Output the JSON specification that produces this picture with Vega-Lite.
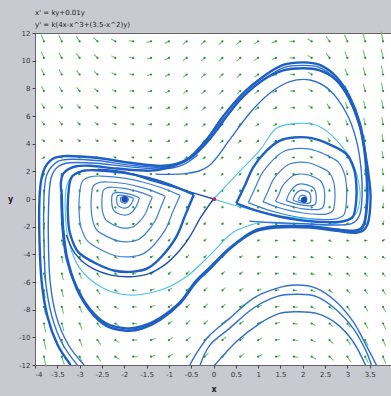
{
"$schema":"https://vega.github.io/schema/vega-lite/v6.json",
"width":357,"height":332,
"autosize":{"type":"none"},
"padding":{"left":35,"top":33,"right":0,"bottom":31},
"background":"#c9c9d1",
"title":{"text":["x' = ky+0.01y","y' = k(4x-x^3+(3.5-x^2)y)"],"anchor":"start","frame":"group","fontSize":7,"font":"DejaVu Sans","fontWeight":"normal","color":"#222","offset":1,"lineHeight":12.5},
"config":{"view":{"fill":"white","stroke":"#666","strokeWidth":1},
"axis":{"grid":false,"domain":false,"tickSize":3,"tickColor":"#444","labelFontSize":7,"labelColor":"#333","labelFont":"DejaVu Sans","labelPadding":2,"titleFont":"DejaVu Sans","titleFontSize":8,"titleFontWeight":"bold","titleColor":"#222"}},
"datasets":{
"field":[
{"x":-3.8,"y":11.4,"a":158,"m":1353},{"x":-3.4,"y":11.4,"a":153,"m":1116},{"x":-3,"y":11.4,"a":146,"m":896},{"x":-2.6,"y":11.4,"a":134,"m":709},{"x":-2.2,"y":11.4,"a":118,"m":573},{"x":-1.8,"y":11.4,"a":96,"m":512},{"x":-1.4,"y":11.4,"a":76,"m":523},{"x":-1,"y":11.4,"a":62,"m":577},{"x":-0.6,"y":11.4,"a":53,"m":638},{"x":-0.2,"y":11.4,"a":48,"m":683},{"x":0.2,"y":11.4,"a":47,"m":697},{"x":0.6,"y":11.4,"a":49,"m":677},{"x":1,"y":11.4,"a":55,"m":621},{"x":1.4,"y":11.4,"a":68,"m":548},{"x":1.8,"y":11.4,"a":92,"m":509},{"x":2.2,"y":11.4,"a":122,"m":598},{"x":2.6,"y":11.4,"a":144,"m":859},{"x":3,"y":11.4,"a":156,"m":1260},{"x":3.4,"y":11.4,"a":163,"m":1779},{"x":3.8,"y":11.4,"a":168,"m":2406},
{"x":-3.8,"y":10.2,"a":157,"m":1158},{"x":-3.4,"y":10.2,"a":152,"m":966},{"x":-3,"y":10.2,"a":145,"m":784},{"x":-2.6,"y":10.2,"a":134,"m":627},{"x":-2.2,"y":10.2,"a":117,"m":512},{"x":-1.8,"y":10.2,"a":97,"m":458},{"x":-1.4,"y":10.2,"a":77,"m":467},{"x":-1,"y":10.2,"a":62,"m":515},{"x":-0.6,"y":10.2,"a":53,"m":569},{"x":-0.2,"y":10.2,"a":48,"m":610},{"x":0.2,"y":10.2,"a":47,"m":625},{"x":0.6,"y":10.2,"a":48,"m":607},{"x":1,"y":10.2,"a":55,"m":558},{"x":1.4,"y":10.2,"a":68,"m":492},{"x":1.8,"y":10.2,"a":92,"m":455},{"x":2.2,"y":10.2,"a":122,"m":537},{"x":2.6,"y":10.2,"a":144,"m":777},{"x":3,"y":10.2,"a":157,"m":1148},{"x":3.4,"y":10.2,"a":164,"m":1628},{"x":3.8,"y":10.2,"a":168,"m":2210},
{"x":-3.8,"y":9,"a":155,"m":963},{"x":-3.4,"y":9,"a":151,"m":816},{"x":-3,"y":9,"a":143,"m":672},{"x":-2.6,"y":9,"a":133,"m":545},{"x":-2.2,"y":9,"a":117,"m":450},{"x":-1.8,"y":9,"a":97,"m":404},{"x":-1.4,"y":9,"a":77,"m":411},{"x":-1,"y":9,"a":63,"m":452},{"x":-0.6,"y":9,"a":53,"m":500},{"x":-0.2,"y":9,"a":48,"m":537},{"x":0.2,"y":9,"a":47,"m":552},{"x":0.6,"y":9,"a":48,"m":538},{"x":1,"y":9,"a":54,"m":495},{"x":1.4,"y":9,"a":67,"m":436},{"x":1.8,"y":9,"a":92,"m":402},{"x":2.2,"y":9,"a":122,"m":475},{"x":2.6,"y":9,"a":145,"m":695},{"x":3,"y":9,"a":157,"m":1035},{"x":3.4,"y":9,"a":164,"m":1477},{"x":3.8,"y":9,"a":169,"m":2013},
{"x":-3.8,"y":7.8,"a":153,"m":769},{"x":-3.4,"y":7.8,"a":149,"m":666},{"x":-3,"y":7.8,"a":142,"m":561},{"x":-2.6,"y":7.8,"a":131,"m":464},{"x":-2.2,"y":7.8,"a":116,"m":388},{"x":-1.8,"y":7.8,"a":97,"m":351},{"x":-1.4,"y":7.8,"a":78,"m":355},{"x":-1,"y":7.8,"a":63,"m":389},{"x":-0.6,"y":7.8,"a":54,"m":431},{"x":-0.2,"y":7.8,"a":48,"m":465},{"x":0.2,"y":7.8,"a":47,"m":480},{"x":0.6,"y":7.8,"a":48,"m":469},{"x":1,"y":7.8,"a":54,"m":433},{"x":1.4,"y":7.8,"a":66,"m":380},{"x":1.8,"y":7.8,"a":91,"m":348},{"x":2.2,"y":7.8,"a":123,"m":414},{"x":2.6,"y":7.8,"a":145,"m":613},{"x":3,"y":7.8,"a":158,"m":923},{"x":3.4,"y":7.8,"a":165,"m":1325},{"x":3.8,"y":7.8,"a":169,"m":1816},
{"x":-3.8,"y":6.6,"a":149,"m":576},{"x":-3.4,"y":6.6,"a":145,"m":518},{"x":-3,"y":6.6,"a":139,"m":450},{"x":-2.6,"y":6.6,"a":130,"m":382},{"x":-2.2,"y":6.6,"a":116,"m":327},{"x":-1.8,"y":6.6,"a":98,"m":297},{"x":-1.4,"y":6.6,"a":79,"m":300},{"x":-1,"y":6.6,"a":64,"m":326},{"x":-0.6,"y":6.6,"a":54,"m":362},{"x":-0.2,"y":6.6,"a":49,"m":392},{"x":0.2,"y":6.6,"a":46,"m":407},{"x":0.6,"y":6.6,"a":47,"m":400},{"x":1,"y":6.6,"a":53,"m":370},{"x":1.4,"y":6.6,"a":65,"m":324},{"x":1.8,"y":6.6,"a":91,"m":294},{"x":2.2,"y":6.6,"a":123,"m":352},{"x":2.6,"y":6.6,"a":146,"m":532},{"x":3,"y":6.6,"a":159,"m":810},{"x":3.4,"y":6.6,"a":166,"m":1174},{"x":3.8,"y":6.6,"a":170,"m":1620},
{"x":-3.8,"y":5.4,"a":142,"m":389},{"x":-3.4,"y":5.4,"a":140,"m":372},{"x":-3,"y":5.4,"a":135,"m":340},{"x":-2.6,"y":5.4,"a":127,"m":301},{"x":-2.2,"y":5.4,"a":115,"m":265},{"x":-1.8,"y":5.4,"a":99,"m":244},{"x":-1.4,"y":5.4,"a":81,"m":244},{"x":-1,"y":5.4,"a":66,"m":264},{"x":-0.6,"y":5.4,"a":55,"m":293},{"x":-0.2,"y":5.4,"a":49,"m":320},{"x":0.2,"y":5.4,"a":46,"m":334},{"x":0.6,"y":5.4,"a":47,"m":331},{"x":1,"y":5.4,"a":52,"m":307},{"x":1.4,"y":5.4,"a":64,"m":268},{"x":1.8,"y":5.4,"a":90,"m":241},{"x":2.2,"y":5.4,"a":124,"m":291},{"x":2.6,"y":5.4,"a":148,"m":450},{"x":3,"y":5.4,"a":160,"m":698},{"x":3.4,"y":5.4,"a":166,"m":1023},{"x":3.8,"y":5.4,"a":170,"m":1424},
{"x":-3.8,"y":4.2,"a":122,"m":220},{"x":-3.4,"y":4.2,"a":127,"m":235},{"x":-3,"y":4.2,"a":127,"m":235},{"x":-2.6,"y":4.2,"a":122,"m":222},{"x":-2.2,"y":4.2,"a":113,"m":204},{"x":-1.8,"y":4.2,"a":100,"m":190},{"x":-1.4,"y":4.2,"a":84,"m":188},{"x":-1,"y":4.2,"a":68,"m":202},{"x":-0.6,"y":4.2,"a":57,"m":224},{"x":-0.2,"y":4.2,"a":49,"m":247},{"x":0.2,"y":4.2,"a":46,"m":262},{"x":0.6,"y":4.2,"a":46,"m":262},{"x":1,"y":4.2,"a":50,"m":245},{"x":1.4,"y":4.2,"a":62,"m":212},{"x":1.8,"y":4.2,"a":88,"m":187},{"x":2.2,"y":4.2,"a":125,"m":229},{"x":2.6,"y":4.2,"a":150,"m":369},{"x":3,"y":4.2,"a":161,"m":587},{"x":3.4,"y":4.2,"a":168,"m":873},{"x":3.8,"y":4.2,"a":171,"m":1227},
{"x":-3.8,"y":3,"a":61,"m":153},{"x":-3.4,"y":3,"a":90,"m":134},{"x":-3,"y":3,"a":107,"m":140},{"x":-2.6,"y":3,"a":113,"m":145},{"x":-2.2,"y":3,"a":111,"m":143},{"x":-1.8,"y":3,"a":102,"m":137},{"x":-1.4,"y":3,"a":88,"m":134},{"x":-1,"y":3,"a":73,"m":140},{"x":-0.6,"y":3,"a":59,"m":156},{"x":-0.2,"y":3,"a":50,"m":174},{"x":0.2,"y":3,"a":45,"m":189},{"x":0.6,"y":3,"a":44,"m":193},{"x":1,"y":3,"a":47,"m":183},{"x":1.4,"y":3,"a":58,"m":157},{"x":1.8,"y":3,"a":86,"m":134},{"x":2.2,"y":3,"a":127,"m":168},{"x":2.6,"y":3,"a":152,"m":288},{"x":3,"y":3,"a":164,"m":476},{"x":3.4,"y":3,"a":169,"m":723},{"x":3.8,"y":3,"a":172,"m":1032},
{"x":-3.8,"y":1.8,"a":17,"m":276},{"x":-3.4,"y":1.8,"a":29,"m":163},{"x":-3,"y":1.8,"a":54,"m":99},{"x":-2.6,"y":1.8,"a":86,"m":81},{"x":-2.2,"y":1.8,"a":104,"m":83},{"x":-1.8,"y":1.8,"a":107,"m":84},{"x":-1.4,"y":1.8,"a":100,"m":82},{"x":-1,"y":1.8,"a":84,"m":81},{"x":-0.6,"y":1.8,"a":66,"m":88},{"x":-0.2,"y":1.8,"a":52,"m":102},{"x":0.2,"y":1.8,"a":43,"m":117},{"x":0.6,"y":1.8,"a":40,"m":125},{"x":1,"y":1.8,"a":41,"m":122},{"x":1.4,"y":1.8,"a":51,"m":104},{"x":1.8,"y":1.8,"a":81,"m":81},{"x":2.2,"y":1.8,"a":132,"m":108},{"x":2.6,"y":1.8,"a":157,"m":209},{"x":3,"y":1.8,"a":167,"m":366},{"x":3.4,"y":1.8,"a":172,"m":574},{"x":3.8,"y":1.8,"a":174,"m":837},
{"x":-3.8,"y":0.6,"a":3,"m":455},{"x":-3.4,"y":0.6,"a":5,"m":286},{"x":-3,"y":0.6,"a":10,"m":160},{"x":-2.6,"y":0.6,"a":21,"m":73},{"x":-2.2,"y":0.6,"a":69,"m":29},{"x":-1.8,"y":0.6,"a":128,"m":34},{"x":-1.4,"y":0.6,"a":139,"m":41},{"x":-1,"y":0.6,"a":133,"m":37},{"x":-0.6,"y":0.6,"a":107,"m":28},{"x":-0.2,"y":0.6,"a":63,"m":30},{"x":0.2,"y":0.6,"a":37,"m":45},{"x":0.6,"y":0.6,"a":27,"m":59},{"x":1,"y":0.6,"a":25,"m":64},{"x":1.4,"y":0.6,"a":29,"m":55},{"x":1.8,"y":0.6,"a":58,"m":32},{"x":2.2,"y":0.6,"a":147,"m":49},{"x":2.6,"y":0.6,"a":168,"m":133},{"x":3,"y":0.6,"a":174,"m":259},{"x":3.4,"y":0.6,"a":176,"m":427},{"x":3.8,"y":0.6,"a":178,"m":644},
{"x":-3.8,"y":-0.6,"a":358,"m":644},{"x":-3.4,"y":-0.6,"a":356,"m":427},{"x":-3,"y":-0.6,"a":354,"m":259},{"x":-2.6,"y":-0.6,"a":348,"m":133},{"x":-2.2,"y":-0.6,"a":327,"m":49},{"x":-1.8,"y":-0.6,"a":238,"m":32},{"x":-1.4,"y":-0.6,"a":209,"m":55},{"x":-1,"y":-0.6,"a":205,"m":64},{"x":-0.6,"y":-0.6,"a":207,"m":59},{"x":-0.2,"y":-0.6,"a":217,"m":45},{"x":0.2,"y":-0.6,"a":243,"m":30},{"x":0.6,"y":-0.6,"a":287,"m":28},{"x":1,"y":-0.6,"a":313,"m":37},{"x":1.4,"y":-0.6,"a":319,"m":41},{"x":1.8,"y":-0.6,"a":308,"m":34},{"x":2.2,"y":-0.6,"a":249,"m":29},{"x":2.6,"y":-0.6,"a":201,"m":73},{"x":3,"y":-0.6,"a":190,"m":160},{"x":3.4,"y":-0.6,"a":185,"m":286},{"x":3.8,"y":-0.6,"a":183,"m":455},
{"x":-3.8,"y":-1.8,"a":354,"m":837},{"x":-3.4,"y":-1.8,"a":352,"m":574},{"x":-3,"y":-1.8,"a":347,"m":366},{"x":-2.6,"y":-1.8,"a":337,"m":209},{"x":-2.2,"y":-1.8,"a":312,"m":108},{"x":-1.8,"y":-1.8,"a":261,"m":81},{"x":-1.4,"y":-1.8,"a":231,"m":104},{"x":-1,"y":-1.8,"a":221,"m":122},{"x":-0.6,"y":-1.8,"a":220,"m":125},{"x":-0.2,"y":-1.8,"a":223,"m":117},{"x":0.2,"y":-1.8,"a":232,"m":102},{"x":0.6,"y":-1.8,"a":246,"m":88},{"x":1,"y":-1.8,"a":264,"m":81},{"x":1.4,"y":-1.8,"a":280,"m":82},{"x":1.8,"y":-1.8,"a":287,"m":84},{"x":2.2,"y":-1.8,"a":284,"m":83},{"x":2.6,"y":-1.8,"a":266,"m":81},{"x":3,"y":-1.8,"a":234,"m":99},{"x":3.4,"y":-1.8,"a":209,"m":163},{"x":3.8,"y":-1.8,"a":197,"m":276},
{"x":-3.8,"y":-3,"a":352,"m":1032},{"x":-3.4,"y":-3,"a":349,"m":723},{"x":-3,"y":-3,"a":344,"m":476},{"x":-2.6,"y":-3,"a":332,"m":288},{"x":-2.2,"y":-3,"a":307,"m":168},{"x":-1.8,"y":-3,"a":266,"m":134},{"x":-1.4,"y":-3,"a":238,"m":157},{"x":-1,"y":-3,"a":227,"m":183},{"x":-0.6,"y":-3,"a":224,"m":193},{"x":-0.2,"y":-3,"a":225,"m":189},{"x":0.2,"y":-3,"a":230,"m":174},{"x":0.6,"y":-3,"a":239,"m":156},{"x":1,"y":-3,"a":253,"m":140},{"x":1.4,"y":-3,"a":268,"m":134},{"x":1.8,"y":-3,"a":282,"m":137},{"x":2.2,"y":-3,"a":291,"m":143},{"x":2.6,"y":-3,"a":293,"m":145},{"x":3,"y":-3,"a":287,"m":140},{"x":3.4,"y":-3,"a":270,"m":134},{"x":3.8,"y":-3,"a":241,"m":153},
{"x":-3.8,"y":-4.2,"a":351,"m":1227},{"x":-3.4,"y":-4.2,"a":348,"m":873},{"x":-3,"y":-4.2,"a":341,"m":587},{"x":-2.6,"y":-4.2,"a":330,"m":369},{"x":-2.2,"y":-4.2,"a":305,"m":229},{"x":-1.8,"y":-4.2,"a":268,"m":187},{"x":-1.4,"y":-4.2,"a":242,"m":212},{"x":-1,"y":-4.2,"a":230,"m":245},{"x":-0.6,"y":-4.2,"a":226,"m":262},{"x":-0.2,"y":-4.2,"a":226,"m":262},{"x":0.2,"y":-4.2,"a":229,"m":247},{"x":0.6,"y":-4.2,"a":237,"m":224},{"x":1,"y":-4.2,"a":248,"m":202},{"x":1.4,"y":-4.2,"a":264,"m":188},{"x":1.8,"y":-4.2,"a":280,"m":190},{"x":2.2,"y":-4.2,"a":293,"m":204},{"x":2.6,"y":-4.2,"a":302,"m":222},{"x":3,"y":-4.2,"a":307,"m":235},{"x":3.4,"y":-4.2,"a":307,"m":235},{"x":3.8,"y":-4.2,"a":302,"m":220},
{"x":-3.8,"y":-5.4,"a":350,"m":1424},{"x":-3.4,"y":-5.4,"a":346,"m":1023},{"x":-3,"y":-5.4,"a":340,"m":698},{"x":-2.6,"y":-5.4,"a":328,"m":450},{"x":-2.2,"y":-5.4,"a":304,"m":291},{"x":-1.8,"y":-5.4,"a":270,"m":241},{"x":-1.4,"y":-5.4,"a":244,"m":268},{"x":-1,"y":-5.4,"a":232,"m":307},{"x":-0.6,"y":-5.4,"a":227,"m":331},{"x":-0.2,"y":-5.4,"a":226,"m":334},{"x":0.2,"y":-5.4,"a":229,"m":320},{"x":0.6,"y":-5.4,"a":235,"m":293},{"x":1,"y":-5.4,"a":246,"m":264},{"x":1.4,"y":-5.4,"a":261,"m":244},{"x":1.8,"y":-5.4,"a":279,"m":244},{"x":2.2,"y":-5.4,"a":295,"m":265},{"x":2.6,"y":-5.4,"a":307,"m":301},{"x":3,"y":-5.4,"a":315,"m":340},{"x":3.4,"y":-5.4,"a":320,"m":372},{"x":3.8,"y":-5.4,"a":322,"m":389},
{"x":-3.8,"y":-6.6,"a":350,"m":1620},{"x":-3.4,"y":-6.6,"a":346,"m":1174},{"x":-3,"y":-6.6,"a":339,"m":810},{"x":-2.6,"y":-6.6,"a":326,"m":532},{"x":-2.2,"y":-6.6,"a":303,"m":352},{"x":-1.8,"y":-6.6,"a":271,"m":294},{"x":-1.4,"y":-6.6,"a":245,"m":324},{"x":-1,"y":-6.6,"a":233,"m":370},{"x":-0.6,"y":-6.6,"a":227,"m":400},{"x":-0.2,"y":-6.6,"a":226,"m":407},{"x":0.2,"y":-6.6,"a":229,"m":392},{"x":0.6,"y":-6.6,"a":234,"m":362},{"x":1,"y":-6.6,"a":244,"m":326},{"x":1.4,"y":-6.6,"a":259,"m":300},{"x":1.8,"y":-6.6,"a":278,"m":297},{"x":2.2,"y":-6.6,"a":296,"m":327},{"x":2.6,"y":-6.6,"a":310,"m":382},{"x":3,"y":-6.6,"a":319,"m":450},{"x":3.4,"y":-6.6,"a":325,"m":518},{"x":3.8,"y":-6.6,"a":329,"m":576},
{"x":-3.8,"y":-7.8,"a":349,"m":1816},{"x":-3.4,"y":-7.8,"a":345,"m":1325},{"x":-3,"y":-7.8,"a":338,"m":923},{"x":-2.6,"y":-7.8,"a":325,"m":613},{"x":-2.2,"y":-7.8,"a":303,"m":414},{"x":-1.8,"y":-7.8,"a":271,"m":348},{"x":-1.4,"y":-7.8,"a":246,"m":380},{"x":-1,"y":-7.8,"a":234,"m":433},{"x":-0.6,"y":-7.8,"a":228,"m":469},{"x":-0.2,"y":-7.8,"a":227,"m":480},{"x":0.2,"y":-7.8,"a":228,"m":465},{"x":0.6,"y":-7.8,"a":234,"m":431},{"x":1,"y":-7.8,"a":243,"m":389},{"x":1.4,"y":-7.8,"a":258,"m":355},{"x":1.8,"y":-7.8,"a":277,"m":351},{"x":2.2,"y":-7.8,"a":296,"m":388},{"x":2.6,"y":-7.8,"a":311,"m":464},{"x":3,"y":-7.8,"a":322,"m":561},{"x":3.4,"y":-7.8,"a":329,"m":666},{"x":3.8,"y":-7.8,"a":333,"m":769},
{"x":-3.8,"y":-9,"a":349,"m":2013},{"x":-3.4,"y":-9,"a":344,"m":1477},{"x":-3,"y":-9,"a":337,"m":1035},{"x":-2.6,"y":-9,"a":325,"m":695},{"x":-2.2,"y":-9,"a":302,"m":475},{"x":-1.8,"y":-9,"a":272,"m":402},{"x":-1.4,"y":-9,"a":247,"m":436},{"x":-1,"y":-9,"a":234,"m":495},{"x":-0.6,"y":-9,"a":228,"m":538},{"x":-0.2,"y":-9,"a":227,"m":552},{"x":0.2,"y":-9,"a":228,"m":537},{"x":0.6,"y":-9,"a":233,"m":500},{"x":1,"y":-9,"a":243,"m":452},{"x":1.4,"y":-9,"a":257,"m":411},{"x":1.8,"y":-9,"a":277,"m":404},{"x":2.2,"y":-9,"a":297,"m":450},{"x":2.6,"y":-9,"a":313,"m":545},{"x":3,"y":-9,"a":323,"m":672},{"x":3.4,"y":-9,"a":331,"m":816},{"x":3.8,"y":-9,"a":335,"m":963},
{"x":-3.8,"y":-10.2,"a":348,"m":2210},{"x":-3.4,"y":-10.2,"a":344,"m":1628},{"x":-3,"y":-10.2,"a":337,"m":1148},{"x":-2.6,"y":-10.2,"a":324,"m":777},{"x":-2.2,"y":-10.2,"a":302,"m":537},{"x":-1.8,"y":-10.2,"a":272,"m":455},{"x":-1.4,"y":-10.2,"a":248,"m":492},{"x":-1,"y":-10.2,"a":235,"m":558},{"x":-0.6,"y":-10.2,"a":228,"m":607},{"x":-0.2,"y":-10.2,"a":227,"m":625},{"x":0.2,"y":-10.2,"a":228,"m":610},{"x":0.6,"y":-10.2,"a":233,"m":569},{"x":1,"y":-10.2,"a":242,"m":515},{"x":1.4,"y":-10.2,"a":257,"m":467},{"x":1.8,"y":-10.2,"a":277,"m":458},{"x":2.2,"y":-10.2,"a":297,"m":512},{"x":2.6,"y":-10.2,"a":314,"m":627},{"x":3,"y":-10.2,"a":325,"m":784},{"x":3.4,"y":-10.2,"a":332,"m":966},{"x":3.8,"y":-10.2,"a":337,"m":1158},
{"x":-3.8,"y":-11.4,"a":348,"m":2406},{"x":-3.4,"y":-11.4,"a":343,"m":1779},{"x":-3,"y":-11.4,"a":336,"m":1260},{"x":-2.6,"y":-11.4,"a":324,"m":859},{"x":-2.2,"y":-11.4,"a":302,"m":598},{"x":-1.8,"y":-11.4,"a":272,"m":509},{"x":-1.4,"y":-11.4,"a":248,"m":548},{"x":-1,"y":-11.4,"a":235,"m":621},{"x":-0.6,"y":-11.4,"a":229,"m":677},{"x":-0.2,"y":-11.4,"a":227,"m":697},{"x":0.2,"y":-11.4,"a":228,"m":683},{"x":0.6,"y":-11.4,"a":233,"m":638},{"x":1,"y":-11.4,"a":242,"m":577},{"x":1.4,"y":-11.4,"a":256,"m":523},{"x":1.8,"y":-11.4,"a":276,"m":512},{"x":2.2,"y":-11.4,"a":298,"m":573},{"x":2.6,"y":-11.4,"a":314,"m":709},{"x":3,"y":-11.4,"a":326,"m":896},{"x":3.4,"y":-11.4,"a":333,"m":1116},{"x":3.8,"y":-11.4,"a":338,"m":1353}
],
"thick":[
{"c":"LC","x":-3.4,"y":0.3},{"c":"LC","x":-3.42,"y":1.2},{"c":"LC","x":-3.35,"y":1.9},{"c":"LC","x":-3.1,"y":2.35},{"c":"LC","x":-2.75,"y":2.4},{"c":"LC","x":-2.16,"y":2.2},{"c":"LC","x":-1.41,"y":2.05},{"c":"LC","x":-0.89,"y":2.4},{"c":"LC","x":-0.5,"y":3.0},{"c":"LC","x":-0.2,"y":3.9},{"c":"LC","x":0.08,"y":5.0},{"c":"LC","x":0.3,"y":6.0},{"c":"LC","x":0.66,"y":7.4},{"c":"LC","x":1.11,"y":8.6},{"c":"LC","x":1.56,"y":9.3},{"c":"LC","x":2.01,"y":9.45},{"c":"LC","x":2.38,"y":9.3},{"c":"LC","x":2.75,"y":8.6},{"c":"LC","x":3.05,"y":7.2},{"c":"LC","x":3.28,"y":5.3},{"c":"LC","x":3.39,"y":3.5},{"c":"LC","x":3.44,"y":1.6},{"c":"LC","x":3.45,"y":0},{"c":"LC","x":3.38,"y":-1.8},{"c":"LC","x":3.18,"y":-2.3},{"c":"LC","x":2.75,"y":-2.2},{"c":"LC","x":2.16,"y":-1.97},{"c":"LC","x":1.41,"y":-1.97},{"c":"LC","x":0.89,"y":-2.33},{"c":"LC","x":0.36,"y":-3.55},{"c":"LC","x":-0.08,"y":-4.95},{"c":"LC","x":-0.4,"y":-5.95},{"c":"LC","x":-0.75,"y":-7.45},{"c":"LC","x":-1.2,"y":-8.6},{"c":"LC","x":-1.6,"y":-9.2},{"c":"LC","x":-1.95,"y":-9.35},{"c":"LC","x":-2.4,"y":-9.0},{"c":"LC","x":-2.77,"y":-7.95},{"c":"LC","x":-3.07,"y":-6.35},{"c":"LC","x":-3.28,"y":-4.25},{"c":"LC","x":-3.37,"y":-2.1},{"c":"LC","x":-3.4,"y":0.3},
{"c":"SO","x":-3.2,"y":-12},{"c":"SO","x":-3.5,"y":-10.5},{"c":"SO","x":-3.72,"y":-8.5},{"c":"SO","x":-3.85,"y":-6},{"c":"SO","x":-3.9,"y":-3},{"c":"SO","x":-3.9,"y":0},{"c":"SO","x":-3.84,"y":1.7},{"c":"SO","x":-3.68,"y":2.7},{"c":"SO","x":-3.37,"y":3.1},{"c":"SO","x":-2.62,"y":2.98},{"c":"SO","x":-1.87,"y":2.62},{"c":"SO","x":-1.13,"y":2.4},{"c":"SO","x":-0.6,"y":2.85},{"c":"SO","x":-0.16,"y":4.27},{"c":"SO","x":0.21,"y":5.95},{"c":"SO","x":0.66,"y":7.64},{"c":"SO","x":1.11,"y":8.84},{"c":"SO","x":1.56,"y":9.69},{"c":"SO","x":2.01,"y":9.88},{"c":"SO","x":2.38,"y":9.69},{"c":"SO","x":2.75,"y":8.84},{"c":"SO","x":3.05,"y":7.4},{"c":"SO","x":3.28,"y":5.47},{"c":"SO","x":3.39,"y":3.54},{"c":"SO","x":3.48,"y":1.61},{"c":"SO","x":3.52,"y":0},{"c":"SO","x":3.45,"y":-1.85},{"c":"SO","x":3.22,"y":-2.42},{"c":"SO","x":2.75,"y":-2.3},{"c":"SO","x":2.16,"y":-2.07},{"c":"SO","x":1.41,"y":-2.07},{"c":"SO","x":0.89,"y":-2.42},{"c":"SO","x":0.36,"y":-3.62},{"c":"SO","x":-0.08,"y":-5.05},{"c":"SO","x":-0.4,"y":-6.05},{"c":"SO","x":-0.75,"y":-7.55},{"c":"SO","x":-1.2,"y":-8.75},{"c":"SO","x":-1.6,"y":-9.37},{"c":"SO","x":-1.95,"y":-9.52},{"c":"SO","x":-2.4,"y":-9.17},{"c":"SO","x":-2.77,"y":-8.07},{"c":"SO","x":-3.07,"y":-6.45},{"c":"SO","x":-3.29,"y":-4.32},{"c":"SO","x":-3.38,"y":-2.14},{"c":"SO","x":-3.41,"y":0.3},
{"c":"R1","x":0.51,"y":-0.31},{"c":"R1","x":0.7,"y":0.95},{"c":"R1","x":0.89,"y":2.29},{"c":"R1","x":1.19,"y":3.49},{"c":"R1","x":1.49,"y":4.22},{"c":"R1","x":1.8,"y":4.45},{"c":"R1","x":2.2,"y":4.4},{"c":"R1","x":2.6,"y":3.95},{"c":"R1","x":2.98,"y":3.25},{"c":"R1","x":3.15,"y":2.15},{"c":"R1","x":3.2,"y":1.09},{"c":"R1","x":3.2,"y":-0.05},{"c":"R1","x":3.13,"y":-1.25},{"c":"R1","x":2.9,"y":-1.62},{"c":"R1","x":2.61,"y":-1.68},{"c":"R1","x":2.0,"y":-1.55},{"c":"R1","x":1.49,"y":-1.28},{"c":"R1","x":1.0,"y":-0.88},{"c":"R1","x":0.51,"y":-0.31},
{"c":"L1","x":-0.44,"y":0.32},{"c":"L1","x":-0.63,"y":-1.15},{"c":"L1","x":-0.83,"y":-2.72},{"c":"L1","x":-1.15,"y":-4.12},{"c":"L1","x":-1.46,"y":-4.98},{"c":"L1","x":-1.79,"y":-5.25},{"c":"L1","x":-2.21,"y":-5.19},{"c":"L1","x":-2.63,"y":-4.66},{"c":"L1","x":-3.03,"y":-3.84},{"c":"L1","x":-3.21,"y":-2.55},{"c":"L1","x":-3.26,"y":-1.31},{"c":"L1","x":-3.26,"y":0.02},{"c":"L1","x":-3.19,"y":1.52},{"c":"L1","x":-2.95,"y":2.01},{"c":"L1","x":-2.64,"y":2.08},{"c":"L1","x":-2.0,"y":1.89},{"c":"L1","x":-1.46,"y":1.52},{"c":"L1","x":-0.95,"y":1.01},{"c":"L1","x":-0.44,"y":0.32}
],
"med":[
{"c":"SM","x":-3.05,"y":-12},{"c":"SM","x":-3.38,"y":-10.5},{"c":"SM","x":-3.62,"y":-8.5},{"c":"SM","x":-3.76,"y":-6},{"c":"SM","x":-3.8,"y":-3},{"c":"SM","x":-3.8,"y":0},{"c":"SM","x":-3.75,"y":1.6},{"c":"SM","x":-3.58,"y":2.5},{"c":"SM","x":-3.3,"y":2.86},{"c":"SM","x":-2.62,"y":2.78},{"c":"SM","x":-1.87,"y":2.45},{"c":"SM","x":-1.13,"y":2.3},{"c":"SM","x":-0.62,"y":2.75},{"c":"SM","x":-0.2,"y":4.15},{"c":"SM","x":0.25,"y":5.85},{"c":"SM","x":0.7,"y":7.5},{"c":"SM","x":1.13,"y":8.65},{"c":"SM","x":1.57,"y":9.5},{"c":"SM","x":2.01,"y":9.66},{"c":"SM","x":2.38,"y":9.5},{"c":"SM","x":2.74,"y":8.65},{"c":"SM","x":3.03,"y":7.25},{"c":"SM","x":3.26,"y":5.35},{"c":"SM","x":3.37,"y":3.5},{"c":"SM","x":3.42,"y":1.6},{"c":"SM","x":3.43,"y":0},{"c":"SM","x":3.36,"y":-1.78},{"c":"SM","x":3.16,"y":-2.26},{"c":"SM","x":2.75,"y":-2.16},
{"c":"SI","x":-2.9,"y":-12},{"c":"SI","x":-3.26,"y":-10.5},{"c":"SI","x":-3.52,"y":-8.5},{"c":"SI","x":-3.66,"y":-6},{"c":"SI","x":-3.7,"y":-3},{"c":"SI","x":-3.69,"y":0},{"c":"SI","x":-3.64,"y":1.5},{"c":"SI","x":-3.5,"y":2.3},{"c":"SI","x":-3.22,"y":2.62},{"c":"SI","x":-2.62,"y":2.58},{"c":"SI","x":-1.87,"y":2.32},{"c":"SI","x":-1.13,"y":2.18},{"c":"SI","x":-0.7,"y":2.45},{"c":"SI","x":-0.35,"y":3.2},
{"c":"M","x":-1.3,"y":1.8},{"c":"M","x":-0.6,"y":1.85},{"c":"M","x":-0.1,"y":2.4},{"c":"M","x":0.36,"y":4.27},{"c":"M","x":0.81,"y":6.2},{"c":"M","x":1.26,"y":7.64},{"c":"M","x":1.71,"y":8.48},{"c":"M","x":2.16,"y":8.6},{"c":"M","x":2.6,"y":7.88},{"c":"M","x":2.98,"y":6.2},{"c":"M","x":3.2,"y":4.27},{"c":"M","x":3.31,"y":2.1},{"c":"M","x":3.33,"y":0.17},{"c":"M","x":3.27,"y":-1.2},{"c":"M","x":3.08,"y":-1.8},{"c":"M","x":2.6,"y":-1.88},{"c":"M","x":2.0,"y":-1.78},{"c":"M","x":1.3,"y":-1.7},{"c":"M","x":0.8,"y":-1.6},
{"c":"A1","x":-0.53,"y":-12},{"c":"A1","x":-0.35,"y":-11},{"c":"A1","x":-0.08,"y":-9.83},{"c":"A1","x":0.36,"y":-8.63},{"c":"A1","x":0.89,"y":-7.18},{"c":"A1","x":1.41,"y":-6.46},{"c":"A1","x":1.86,"y":-6.22},{"c":"A1","x":2.31,"y":-6.46},{"c":"A1","x":2.75,"y":-7.43},{"c":"A1","x":3.13,"y":-8.87},{"c":"A1","x":3.42,"y":-10.56},{"c":"A1","x":3.65,"y":-12},
{"c":"A2","x":-0.3,"y":-12},{"c":"A2","x":-0.08,"y":-10.56},{"c":"A2","x":0.36,"y":-9.35},{"c":"A2","x":0.89,"y":-7.9},{"c":"A2","x":1.41,"y":-7.06},{"c":"A2","x":1.86,"y":-6.89},{"c":"A2","x":2.31,"y":-7.06},{"c":"A2","x":2.75,"y":-8.0},{"c":"A2","x":3.13,"y":-9.35},{"c":"A2","x":3.39,"y":-10.8},{"c":"A2","x":3.54,"y":-12},
{"c":"A3","x":-0.05,"y":-12.3},{"c":"A3","x":0.51,"y":-10.32},{"c":"A3","x":1.04,"y":-8.99},{"c":"A3","x":1.48,"y":-8.27},{"c":"A3","x":1.86,"y":-8.15},{"c":"A3","x":2.31,"y":-8.27},{"c":"A3","x":2.75,"y":-8.99},{"c":"A3","x":3.13,"y":-10.32},{"c":"A3","x":3.45,"y":-12.3}
],
"dark":[
{"c":"D1","x":-2.6,"y":2.15},{"c":"D1","x":-2.0,"y":1.95},{"c":"D1","x":-1.43,"y":1.37},{"c":"D1","x":-0.7,"y":0.68},{"c":"D1","x":0,"y":0},
{"c":"D2","x":0,"y":0},{"c":"D2","x":-0.28,"y":-1.3},{"c":"D2","x":-0.53,"y":-2.72},{"c":"D2","x":-0.75,"y":-3.69},{"c":"D2","x":-1.05,"y":-4.65},{"c":"D2","x":-1.45,"y":-5.4},{"c":"D2","x":-1.85,"y":-5.62},{"c":"D2","x":-2.3,"y":-5.5},{"c":"D2","x":-2.75,"y":-4.95},{"c":"D2","x":-3.1,"y":-3.95},{"c":"D2","x":-3.3,"y":-2.6}
],
"loops":[
{"c":"R2","x":0.78,"y":-0.26},{"c":"R2","x":0.93,"y":0.77},{"c":"R2","x":1.09,"y":1.87},{"c":"R2","x":1.34,"y":2.85},{"c":"R2","x":1.58,"y":3.45},{"c":"R2","x":1.84,"y":3.64},{"c":"R2","x":2.16,"y":3.6},{"c":"R2","x":2.49,"y":3.23},{"c":"R2","x":2.8,"y":2.66},{"c":"R2","x":2.94,"y":1.75},{"c":"R2","x":2.98,"y":0.88},{"c":"R2","x":2.98,"y":-0.05},{"c":"R2","x":2.93,"y":-1.1},{"c":"R2","x":2.74,"y":-1.44},{"c":"R2","x":2.5,"y":-1.49},{"c":"R2","x":2.0,"y":-1.36},{"c":"R2","x":1.58,"y":-1.1},{"c":"R2","x":1.18,"y":-0.75},{"c":"R2","x":0.78,"y":-0.26},
{"c":"R3","x":1.11,"y":-0.21},{"c":"R3","x":1.22,"y":0.55},{"c":"R3","x":1.33,"y":1.35},{"c":"R3","x":1.51,"y":2.07},{"c":"R3","x":1.69,"y":2.51},{"c":"R3","x":1.88,"y":2.65},{"c":"R3","x":2.12,"y":2.62},{"c":"R3","x":2.36,"y":2.35},{"c":"R3","x":2.59,"y":1.93},{"c":"R3","x":2.69,"y":1.27},{"c":"R3","x":2.72,"y":0.63},{"c":"R3","x":2.72,"y":-0.05},{"c":"R3","x":2.68,"y":-0.82},{"c":"R3","x":2.54,"y":-1.07},{"c":"R3","x":2.37,"y":-1.11},{"c":"R3","x":2.0,"y":-1.01},{"c":"R3","x":1.69,"y":-0.82},{"c":"R3","x":1.4,"y":-0.56},{"c":"R3","x":1.11,"y":-0.21},
{"c":"R4","x":1.39,"y":-0.16},{"c":"R4","x":1.47,"y":0.36},{"c":"R4","x":1.54,"y":0.91},{"c":"R4","x":1.67,"y":1.4},{"c":"R4","x":1.79,"y":1.7},{"c":"R4","x":1.92,"y":1.8},{"c":"R4","x":2.08,"y":1.77},{"c":"R4","x":2.25,"y":1.59},{"c":"R4","x":2.4,"y":1.3},{"c":"R4","x":2.47,"y":0.85},{"c":"R4","x":2.49,"y":0.42},{"c":"R4","x":2.49,"y":-0.05},{"c":"R4","x":2.46,"y":-0.57},{"c":"R4","x":2.37,"y":-0.75},{"c":"R4","x":2.25,"y":-0.77},{"c":"R4","x":2.0,"y":-0.71},{"c":"R4","x":1.79,"y":-0.57},{"c":"R4","x":1.59,"y":-0.4},{"c":"R4","x":1.39,"y":-0.16},
{"c":"R5","x":1.63,"y":-0.12},{"c":"R5","x":1.72,"y":0.54},{"c":"R5","x":1.87,"y":1.02},{"c":"R5","x":2.05,"y":1.06},{"c":"R5","x":2.25,"y":0.78},{"c":"R5","x":2.3,"y":0.24},{"c":"R5","x":2.28,"y":-0.37},{"c":"R5","x":2.15,"y":-0.49},{"c":"R5","x":1.87,"y":-0.37},{"c":"R5","x":1.63,"y":-0.12},
{"c":"R6","x":1.78,"y":-0.09},{"c":"R6","x":1.83,"y":0.3},{"c":"R6","x":1.92,"y":0.59},{"c":"R6","x":2.03,"y":0.62},{"c":"R6","x":2.15,"y":0.45},{"c":"R6","x":2.18,"y":0.12},{"c":"R6","x":2.17,"y":-0.24},{"c":"R6","x":2.09,"y":-0.31},{"c":"R6","x":1.92,"y":-0.24},{"c":"R6","x":1.78,"y":-0.09},
{"c":"R7","x":1.9,"y":-0.07},{"c":"R7","x":1.92,"y":0.11},{"c":"R7","x":1.96,"y":0.25},{"c":"R7","x":2.01,"y":0.26},{"c":"R7","x":2.07,"y":0.18},{"c":"R7","x":2.08,"y":0.03},{"c":"R7","x":2.08,"y":-0.14},{"c":"R7","x":2.04,"y":-0.17},{"c":"R7","x":1.96,"y":-0.14},{"c":"R7","x":1.9,"y":-0.07},
{"c":"L2","x":-0.75,"y":0.26},{"c":"L2","x":-0.91,"y":-0.91},{"c":"L2","x":-1.07,"y":-2.16},{"c":"L2","x":-1.32,"y":-3.27},{"c":"L2","x":-1.57,"y":-3.95},{"c":"L2","x":-1.83,"y":-4.17},{"c":"L2","x":-2.17,"y":-4.12},{"c":"L2","x":-2.5,"y":-3.7},{"c":"L2","x":-2.82,"y":-3.05},{"c":"L2","x":-2.97,"y":-2.03},{"c":"L2","x":-3.01,"y":-1.04},{"c":"L2","x":-3.01,"y":0.02},{"c":"L2","x":-2.95,"y":1.21},{"c":"L2","x":-2.76,"y":1.6},{"c":"L2","x":-2.51,"y":1.66},{"c":"L2","x":-2.0,"y":1.51},{"c":"L2","x":-1.57,"y":1.21},{"c":"L2","x":-1.16,"y":0.81},{"c":"L2","x":-0.75,"y":0.26},
{"c":"L3","x":-1.08,"y":0.2},{"c":"L3","x":-1.19,"y":-0.67},{"c":"L3","x":-1.31,"y":-1.59},{"c":"L3","x":-1.5,"y":-2.42},{"c":"L3","x":-1.68,"y":-2.93},{"c":"L3","x":-1.88,"y":-3.09},{"c":"L3","x":-2.12,"y":-3.05},{"c":"L3","x":-2.37,"y":-2.74},{"c":"L3","x":-2.61,"y":-2.26},{"c":"L3","x":-2.71,"y":-1.5},{"c":"L3","x":-2.74,"y":-0.77},{"c":"L3","x":-2.74,"y":0.02},{"c":"L3","x":-2.7,"y":0.9},{"c":"L3","x":-2.56,"y":1.19},{"c":"L3","x":-2.38,"y":1.23},{"c":"L3","x":-2.0,"y":1.12},{"c":"L3","x":-1.68,"y":0.9},{"c":"L3","x":-1.38,"y":0.61},{"c":"L3","x":-1.08,"y":0.2},
{"c":"L4","x":-1.37,"y":0.14},{"c":"L4","x":-1.45,"y":-0.45},{"c":"L4","x":-1.53,"y":-1.08},{"c":"L4","x":-1.66,"y":-1.64},{"c":"L4","x":-1.79,"y":-1.99},{"c":"L4","x":-1.92,"y":-2.1},{"c":"L4","x":-2.08,"y":-2.07},{"c":"L4","x":-2.25,"y":-1.86},{"c":"L4","x":-2.41,"y":-1.53},{"c":"L4","x":-2.48,"y":-1.01},{"c":"L4","x":-2.5,"y":-0.52},{"c":"L4","x":-2.5,"y":0.02},{"c":"L4","x":-2.47,"y":0.62},{"c":"L4","x":-2.38,"y":0.82},{"c":"L4","x":-2.26,"y":0.85},{"c":"L4","x":-2.0,"y":0.77},{"c":"L4","x":-1.79,"y":0.62},{"c":"L4","x":-1.58,"y":0.42},{"c":"L4","x":-1.37,"y":0.14},
{"c":"L5","x":-1.66,"y":0.09},{"c":"L5","x":-1.74,"y":-0.59},{"c":"L5","x":-1.88,"y":-1.09},{"c":"L5","x":-2.05,"y":-1.14},{"c":"L5","x":-2.23,"y":-0.84},{"c":"L5","x":-2.28,"y":-0.28},{"c":"L5","x":-2.26,"y":0.35},{"c":"L5","x":-2.14,"y":0.48},{"c":"L5","x":-1.88,"y":0.35},{"c":"L5","x":-1.66,"y":0.09},
{"c":"L6","x":-1.79,"y":0.06},{"c":"L6","x":-1.84,"y":-0.33},{"c":"L6","x":-1.93,"y":-0.62},{"c":"L6","x":-2.03,"y":-0.65},{"c":"L6","x":-2.14,"y":-0.48},{"c":"L6","x":-2.17,"y":-0.15},{"c":"L6","x":-2.16,"y":0.21},{"c":"L6","x":-2.09,"y":0.28},{"c":"L6","x":-1.93,"y":0.21},{"c":"L6","x":-1.79,"y":0.06},
{"c":"L7","x":-1.9,"y":0.04},{"c":"L7","x":-1.92,"y":-0.14},{"c":"L7","x":-1.96,"y":-0.28},{"c":"L7","x":-2.01,"y":-0.29},{"c":"L7","x":-2.07,"y":-0.21},{"c":"L7","x":-2.08,"y":-0.06},{"c":"L7","x":-2.08,"y":0.11},{"c":"L7","x":-2.04,"y":0.14},{"c":"L7","x":-1.96,"y":0.11},{"c":"L7","x":-1.9,"y":0.04}
],
"cyan":[
{"c":"C1","x":0,"y":0},{"c":"C1","x":0.5,"y":1.7},{"c":"C1","x":1.04,"y":3.54},{"c":"C1","x":1.41,"y":5.11},{"c":"C1","x":1.93,"y":5.47},{"c":"C1","x":2.38,"y":5.23},{"c":"C1","x":2.75,"y":4.27},{"c":"C1","x":3.12,"y":2.6},{"c":"C1","x":3.28,"y":0.65},{"c":"C1","x":3.25,"y":-0.6},{"c":"C1","x":3.1,"y":-1.3},{"c":"C1","x":2.6,"y":-1.85},{"c":"C1","x":2.16,"y":-1.8},{"c":"C1","x":1.6,"y":-1.75},{"c":"C1","x":1.04,"y":-1.72},{"c":"C1","x":0.6,"y":-2.15},{"c":"C1","x":0.36,"y":-2.6},{"c":"C1","x":-0.08,"y":-4.05},{"c":"C1","x":-0.6,"y":-5.6},{"c":"C1","x":-1.2,"y":-6.6},{"c":"C1","x":-1.9,"y":-6.94},{"c":"C1","x":-2.5,"y":-6.4},{"c":"C1","x":-3.0,"y":-5.0},{"c":"C1","x":-3.25,"y":-3.0},{"c":"C1","x":-3.32,"y":-1.0},{"c":"C1","x":-3.3,"y":0.8},{"c":"C1","x":-3.15,"y":1.7},{"c":"C1","x":-2.8,"y":2.1},
{"c":"C2","x":0,"y":0},{"c":"C2","x":0.66,"y":-0.62},{"c":"C2","x":1.49,"y":-1.22},{"c":"C2","x":2.2,"y":-1.45}
],
"foci":[{"x":2.03,"y":-0.06},{"x":-1.99,"y":-0.02}],
"saddle":[{"x":0.02,"y":-0.01}],
"readout":[{"t":"3.8348  -3.035"}]
},
"encoding":{
"x":{"field":"x","type":"quantitative","scale":{"domain":[-4,4],"nice":false,"zero":false},"axis":{"values":[-4,-3.5,-3,-2.5,-2,-1.5,-1,-0.5,0,0.5,1,1.5,2,2.5,3,3.5],"format":"~g","title":"x","labelExpr":"replace(datum.label, '\u2212', '-')","titlePadding":8}},
"y":{"field":"y","type":"quantitative","scale":{"domain":[-12,12],"nice":false,"zero":false},"axis":{"values":[-12,-10,-8,-6,-4,-2,0,2,4,6,8,10,12],"format":"~g","title":"y","titleAngle":0,"titleX":-25,"titleY":166,"titleBaseline":"middle","titleAlign":"center","labelExpr":"replace(datum.label, '\u2212', '-')"}}
},
"layer":[
{"data":{"name":"field"},"mark":{"type":"point","shape":"M0,0L0,2","filled":false,"strokeWidth":1,"color":"#5cc25c","opacity":1},
 "encoding":{"angle":{"field":"a","type":"quantitative","scale":null},"size":{"field":"m","type":"quantitative","scale":{"domain":[0,2500],"range":[0,100]},"legend":null}}},
{"data":{"name":"field"},"mark":{"type":"circle","size":5,"color":"#2e8f3a","opacity":1}},
{"data":{"name":"loops"},"mark":{"type":"line","interpolate":"cardinal","strokeWidth":1.2,"color":"#3d7fd8","clip":true},"encoding":{"detail":{"field":"c"},"order":{"value":null}}},
{"data":{"name":"cyan"},"mark":{"type":"line","interpolate":"cardinal","strokeWidth":1.1,"color":"#4cc4e8","clip":true},"encoding":{"detail":{"field":"c"},"order":{"value":null}}},
{"data":{"name":"med"},"mark":{"type":"line","interpolate":"cardinal","strokeWidth":1.4,"color":"#2e6fd0","clip":true},"encoding":{"detail":{"field":"c"},"order":{"value":null}}},
{"data":{"name":"dark"},"mark":{"type":"line","interpolate":"cardinal","strokeWidth":1.4,"color":"#1c4fb0","clip":true},"encoding":{"detail":{"field":"c"},"order":{"value":null}}},
{"data":{"name":"thick"},"mark":{"type":"line","interpolate":"cardinal","strokeWidth":2.4,"color":"#1d5fc4","clip":true},"encoding":{"detail":{"field":"c"},"order":{"value":null}}},
{"data":{"name":"foci"},"mark":{"type":"circle","size":40,"color":"#1b4fb5","opacity":1}},
{"data":{"name":"saddle"},"mark":{"type":"circle","size":14,"color":"#c0206a","opacity":1}},
{"data":{"name":"readout"},"mark":{"type":"text","fontSize":7,"font":"DejaVu Sans","color":"#333","align":"center","baseline":"middle"},
 "encoding":{"x":{"datum":-4.1},"y":{"datum":-13.6},"text":{"field":"t"}}}
]
}
